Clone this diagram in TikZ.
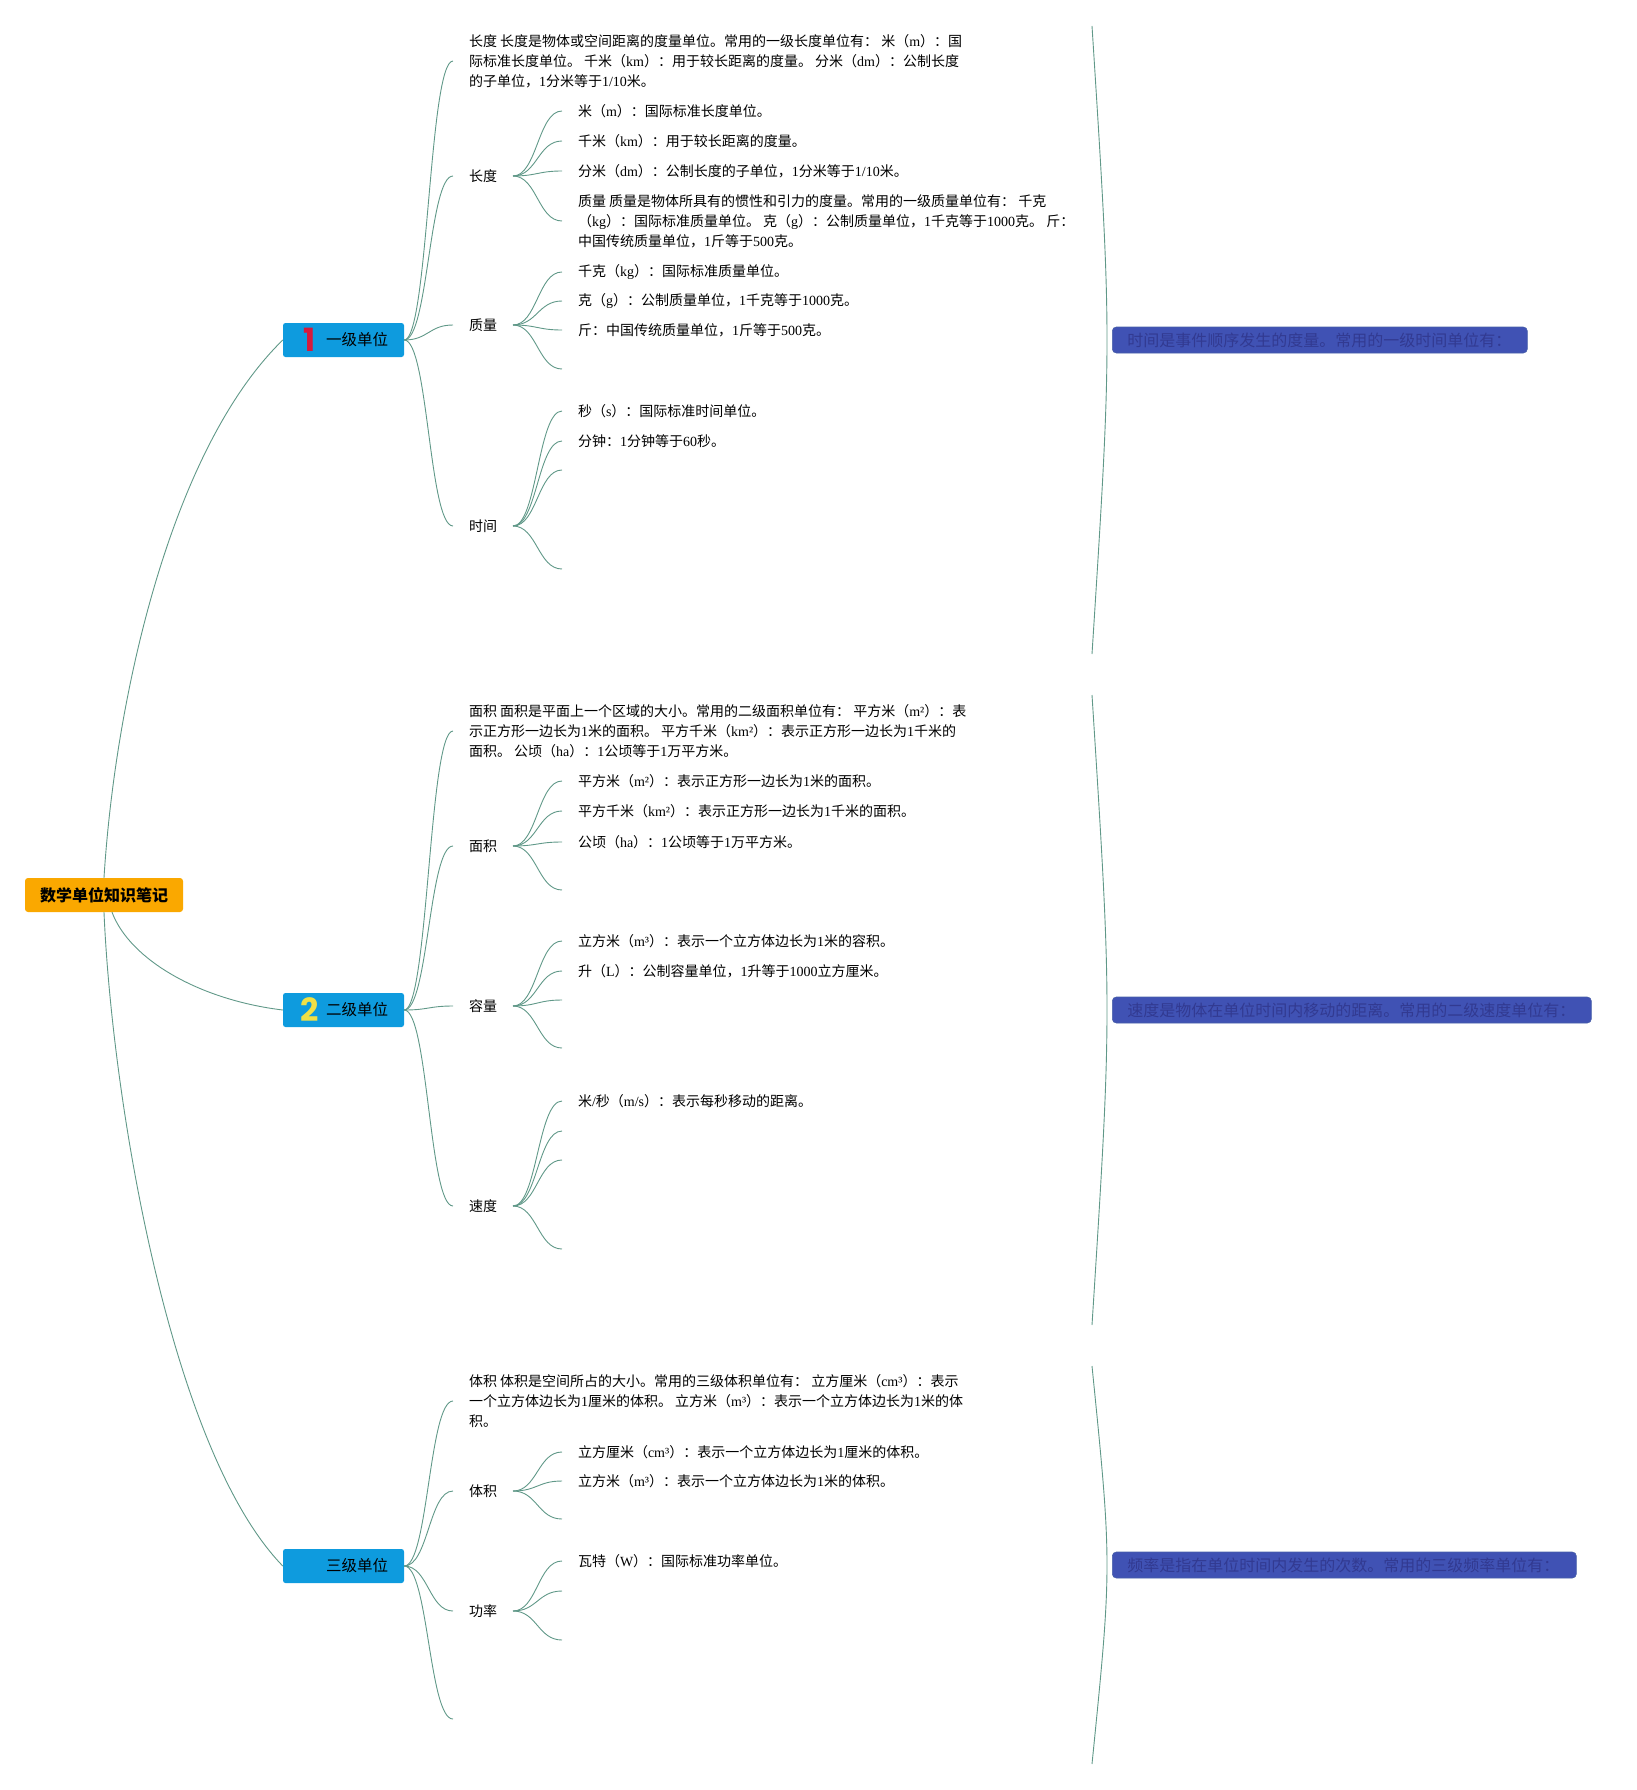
\documentclass[tikz,border=0pt]{standalone}
\usepackage{fontspec}
\setmainfont{Liberation Serif}
\newfontfamily\cjkfont{Noto Sans CJK SC}
\newfontfamily\numfont{Poppins}
\XeTeXinterchartokenstate=1
\newXeTeXintercharclass\CJKcls
\makeatletter
\count@="3000
\loop\ifnum\count@<"A000 \XeTeXcharclass\count@=\CJKcls \advance\count@ 1 \repeat
\count@="FF00
\loop\ifnum\count@<"FFF0 \XeTeXcharclass\count@=\CJKcls \advance\count@ 1 \repeat
\makeatother
\XeTeXinterchartoks 0 \CJKcls = {\cjkfont}
\XeTeXinterchartoks 4095 \CJKcls = {\cjkfont}
\XeTeXinterchartoks \CJKcls 0 = {\rmfamily}
\XeTeXinterchartoks 4095 0 = {\rmfamily}
\definecolor{lineC}{RGB}{96,152,136}
\definecolor{rootC}{RGB}{250,168,0}
\definecolor{boxC}{RGB}{14,155,222}
\definecolor{numRed}{RGB}{214,26,60}
\definecolor{numYel}{RGB}{240,224,70}
\definecolor{sumC}{RGB}{64,82,180}
\definecolor{sumT}{RGB}{50,58,145}
\definecolor{sumD}{RGB}{72,96,168}
\tikzset{
  conn/.style={draw=lineC, line width=0.9pt},
  sbr/.style={to path={.. controls ([xshift=24pt]\tikztostart) and ([xshift=-24pt]\tikztotarget) .. (\tikztotarget)}},
  txt/.style={anchor=west, inner sep=0pt, outer xsep=16pt, outer ysep=0pt, align=left,
    font=\fontsize{14}{20}\selectfont},
  rootbox/.style={fill=rootC, rounded corners=3pt, minimum width=158pt, minimum height=34pt,
    inner sep=0pt, font=\fontsize{16}{18}\selectfont\bfseries},
  lonebox/.style={fill=boxC, rounded corners=2.5pt, minimum width=121pt, minimum height=34pt, inner sep=0pt},
  lonetxt/.style={inner sep=0pt, font=\fontsize{15.5}{18}\selectfont},
  numtxt/.style={inner sep=0pt, font={\XeTeXinterchartokenstate=0 \numfont\bfseries\fontsize{32}{32}\selectfont}},
  sumbox/.style={anchor=west, fill=sumC, draw=sumD, line width=0.6pt, rounded corners=4pt,
    minimum height=26pt, inner xsep=15pt, inner ysep=0pt, align=left, text=sumT,
    font=\fontsize{16}{18}\selectfont},
  sumline/.style={draw=lineC, line width=0.9pt},
}
\begin{document}
\begin{tikzpicture}[x=1pt,y=-1pt]
\useasboundingbox (0,0) rectangle (1636,1790);
% root and level-1 boxes
\node[rootbox] (root) at (104,895) {数学单位知识笔记};
\node[lonebox] (b1) at (343.5,340) {};
\node[lonebox] (b2) at (343.5,1010) {};
\node[lonebox] (b3) at (343.5,1566) {};
\node[numtxt, text=numRed] (n1) at (310,340) {1};
\node[numtxt, text=numYel] (n2) at (310,1010) {2};
\node[lonetxt] (bt1) at (357,340) {一级单位};
\node[lonetxt] (bt2) at (357,1010) {二级单位};
\node[lonetxt] (bt3) at (357,1566) {三级单位};
\draw[conn] (root.north) .. controls (115,700) and (170,450) .. (b1.west);
\draw[conn] ([xshift=8pt]root.south) .. controls (130,960) and (200,1000) .. (b2.west);
\draw[conn] (root.south) .. controls (112,1100) and (170,1450) .. (b3.west);

% ---------- group 1 ----------
\node[txt] (t11) at (453,61) {长度 长度是物体或空间距离的度量单位。常用的一级长度单位有： 米（m）：国\\际标准长度单位。 千米（km）：用于较长距离的度量。 分米（dm）：公制长度\\的子单位，1分米等于1/10米。};
\node[txt] (l12) at (453,176) {长度};
\node[txt] (c121) at (562,111) {米（m）：国际标准长度单位。};
\node[txt] (c122) at (562,141) {千米（km）：用于较长距离的度量。};
\node[txt] (c123) at (562,171) {分米（dm）：公制长度的子单位，1分米等于1/10米。};
\node[txt] (c124) at (562,221) {质量 质量是物体所具有的惯性和引力的度量。常用的一级质量单位有： 千克\\（kg）：国际标准质量单位。 克（g）：公制质量单位，1千克等于1000克。 斤：\\中国传统质量单位，1斤等于500克。};
\node[txt] (l13) at (453,325) {质量};
\node[txt] (c131) at (562,272) {千克（kg）：国际标准质量单位。};
\node[txt] (c132) at (562,301) {克（g）：公制质量单位，1千克等于1000克。};
\node[txt] (c133) at (562,330) {斤：中国传统质量单位，1斤等于500克。};
\coordinate (e134) at (562,369);
\node[txt] (l14) at (453,526) {时间};
\node[txt] (c141) at (562,411) {秒（s）：国际标准时间单位。};
\node[txt] (c142) at (562,441) {分钟：1分钟等于60秒。};
\coordinate (e143) at (562,470);
\coordinate (e144) at (562,569);
\foreach \t in {t11,l12,l13,l14} \draw[conn] (b1.east) to[sbr] (\t.west);
\foreach \t in {c121,c122,c123,c124} \draw[conn] (l12.east) to[sbr] (\t.west);
\foreach \t in {c131,c132,c133} \draw[conn] (l13.east) to[sbr] (\t.west);
\draw[conn] (l13.east) to[sbr] (e134);
\foreach \t in {c141,c142} \draw[conn] (l14.east) to[sbr] (\t.west);
\foreach \t in {e143,e144} \draw[conn] (l14.east) to[sbr] (\t);

% ---------- group 2 ----------
\node[txt] (t21) at (453,731) {面积 面积是平面上一个区域的大小。常用的二级面积单位有： 平方米（m²）：表\\示正方形一边长为1米的面积。 平方千米（km²）：表示正方形一边长为1千米的\\面积。 公顷（ha）：1公顷等于1万平方米。};
\node[txt] (l22) at (453,846) {面积};
\node[txt] (c221) at (562,781) {平方米（m²）：表示正方形一边长为1米的面积。};
\node[txt] (c222) at (562,811) {平方千米（km²）：表示正方形一边长为1千米的面积。};
\node[txt] (c223) at (562,842) {公顷（ha）：1公顷等于1万平方米。};
\coordinate (e224) at (562,890);
\node[txt] (l23) at (453,1006) {容量};
\node[txt] (c231) at (562,941) {立方米（m³）：表示一个立方体边长为1米的容积。};
\node[txt] (c232) at (562,971) {升（L）：公制容量单位，1升等于1000立方厘米。};
\coordinate (e233) at (562,1000);
\coordinate (e234) at (562,1048);
\node[txt] (l24) at (453,1206) {速度};
\node[txt] (c241) at (562,1101) {米/秒（m/s）：表示每秒移动的距离。};
\coordinate (e242) at (562,1131);
\coordinate (e243) at (562,1160);
\coordinate (e244) at (562,1249);
\foreach \t in {t21,l22,l23,l24} \draw[conn] (b2.east) to[sbr] (\t.west);
\foreach \t in {c221,c222,c223} \draw[conn] (l22.east) to[sbr] (\t.west);
\draw[conn] (l22.east) to[sbr] (e224);
\foreach \t in {c231,c232} \draw[conn] (l23.east) to[sbr] (\t.west);
\foreach \t in {e233,e234} \draw[conn] (l23.east) to[sbr] (\t);
\draw[conn] (l24.east) to[sbr] (c241.west);
\foreach \t in {e242,e243,e244} \draw[conn] (l24.east) to[sbr] (\t);

% ---------- group 3 ----------
\node[txt] (t31) at (453,1401) {体积 体积是空间所占的大小。常用的三级体积单位有： 立方厘米（cm³）：表示\\一个立方体边长为1厘米的体积。 立方米（m³）：表示一个立方体边长为1米的体\\积。};
\node[txt] (l32) at (453,1491) {体积};
\node[txt] (c321) at (562,1452) {立方厘米（cm³）：表示一个立方体边长为1厘米的体积。};
\node[txt] (c322) at (562,1481) {立方米（m³）：表示一个立方体边长为1米的体积。};
\coordinate (e323) at (562,1519);
\node[txt] (l33) at (453,1611) {功率};
\node[txt] (c331) at (562,1561) {瓦特（W）：国际标准功率单位。};
\coordinate (e332) at (562,1591);
\coordinate (e333) at (562,1640);
\coordinate (e34) at (453,1719);
\foreach \t in {t31,l32,l33} \draw[conn] (b3.east) to[sbr] (\t.west);
\draw[conn] (b3.east) to[sbr] (e34);
\foreach \t in {c321,c322} \draw[conn] (l32.east) to[sbr] (\t.west);
\draw[conn] (l32.east) to[sbr] (e323);
\draw[conn] (l33.east) to[sbr] (c331.west);
\foreach \t in {e332,e333} \draw[conn] (l33.east) to[sbr] (\t);

% ---------- summaries ----------
\coordinate (s1t) at (1092,26);  \coordinate (s1b) at (1092,654);
\coordinate (s2t) at (1092,695); \coordinate (s2b) at (1092,1325);
\coordinate (s3t) at (1092,1366); \coordinate (s3b) at (1092,1764);
\draw[sumline] (s1t) .. controls (1112,340) .. (s1b);
\draw[sumline] (s2t) .. controls (1112,1010) .. (s2b);
\draw[sumline] (s3t) .. controls (1112,1565) .. (s3b);
\node[sumbox, text width=385pt] (r1) at (1112,340) {时间是事件顺序发生的度量。常用的一级时间单位有：};
\node[sumbox, text width=449pt] (r2) at (1112,1010) {速度是物体在单位时间内移动的距离。常用的二级速度单位有：};
\node[sumbox, text width=434pt] (r3) at (1112,1565) {频率是指在单位时间内发生的次数。常用的三级频率单位有：};
\end{tikzpicture}
\end{document}
